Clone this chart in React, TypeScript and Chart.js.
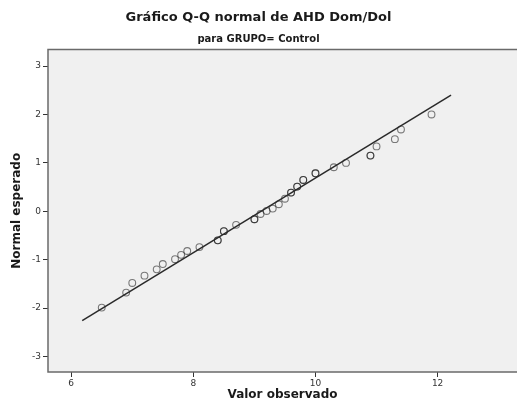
import React, { useEffect, useRef } from "react";
import { Chart, registerables } from "chart.js";

Chart.register(...registerables);

const observed = [6.5, 6.9, 7.0, 7.2, 7.4, 7.5, 7.7, 7.8, 7.9, 8.1, 8.4, 8.4, 8.5, 8.5, 8.7, 9.0, 9.0, 9.1, 9.2, 9.3, 9.4, 9.5, 9.6, 9.6, 9.7, 9.7, 9.8, 9.8, 10.0, 10.0, 10.3, 10.5, 10.9, 10.9, 11.0, 11.3, 11.4, 11.9];
const expected = [-1.99, -1.68, -1.48, -1.33, -1.2, -1.09, -0.99, -0.9, -0.82, -0.74, -0.6, -0.6, -0.41, -0.41, -0.28, -0.165, -0.165, -0.056, 0.007, 0.055, 0.145, 0.26, 0.386, 0.386, 0.51, 0.51, 0.647, 0.647, 0.785, 0.785, 0.91, 1.0, 1.15, 1.15, 1.34, 1.49, 1.69, 2.0];
const lineX = [6.18, 12.22];
const lineY = [-2.26, 2.4];
const xTicks = [6, 8, 10, 12];
const yTicks = [-3, -2, -1, 0, 1, 2, 3];

const titleText = "Gráfico Q-Q normal de AHD Dom/Dol";
const subtitleText = "para GRUPO= Control";
const xTitle = "Valor observado";
const yTitle = "Normal esperado";

const FONT = "'DejaVu Sans', sans-serif";

const areaPlugin = {
  id: "areaPlugin",
  beforeDatasetsDraw(chart: any) {
    const { ctx, chartArea: a } = chart;
    ctx.save();
    ctx.fillStyle = "#f0f0f0";
    ctx.fillRect(a.left, a.top, a.right - a.left, a.bottom - a.top);
    ctx.restore();
  },
  afterDatasetsDraw(chart: any) {
    const { ctx, chartArea: a } = chart;
    ctx.save();
    ctx.strokeStyle = "#6a6a6a";
    ctx.lineWidth = 1.5;
    ctx.beginPath();
    ctx.moveTo(a.right + 2, a.top);
    ctx.lineTo(a.left, a.top);
    ctx.lineTo(a.left, a.bottom);
    ctx.lineTo(a.right + 2, a.bottom);
    ctx.stroke();
    ctx.restore();
  },
};

export default function App() {
  const ref = useRef<HTMLCanvasElement | null>(null);
  useEffect(() => {
    if (!ref.current) return;
    const chart = new Chart(ref.current, {
      type: "scatter",
      data: {
        datasets: [
          {
            type: "line",
            data: lineX.map((x, i) => ({ x, y: lineY[i] })),
            borderColor: "#2a2a2a",
            borderWidth: 1.5,
            pointRadius: 0,
            fill: false,
          } as any,
          {
            data: observed.map((x, i) => ({ x, y: expected[i] })),
            pointStyle: "circle",
            pointRadius: 3.4,
            pointBorderWidth: 1.1,
            pointBackgroundColor: "rgba(0,0,0,0)",
            pointBorderColor: "rgba(0,0,0,0.5)",
          },
        ],
      },
      plugins: [areaPlugin],
      options: {
        animation: false,
        responsive: false,
        maintainAspectRatio: false,
        layout: { padding: 0, autoPadding: false },
        plugins: {
          legend: { display: false },
          tooltip: { enabled: false },
          title: {
            display: true,
            text: titleText,
            color: "#1a1a1a",
            font: { family: FONT, size: 13, weight: "bold", lineHeight: 1.2 },
            padding: { top: 10, bottom: 8 },
          },
          subtitle: {
            display: true,
            text: subtitleText,
            color: "#1a1a1a",
            font: { family: FONT, size: 10, weight: "bold", lineHeight: 1.2 },
            padding: { top: 0, bottom: 4 },
          },
        },
        scales: {
          x: {
            type: "linear",
            min: 5.62,
            max: 13.3,
            afterBuildTicks: (s: any) => {
              s.ticks = xTicks.map((v) => ({ value: v }));
            },
            afterFit: (s: any) => {
              s.height = 40;
              s.paddingLeft = 0;
              s.paddingRight = 0;
            },
            border: { display: false },
            grid: { drawOnChartArea: false, drawTicks: true, tickLength: 5, tickColor: "#333", tickWidth: 1 },
            ticks: { color: "#333", font: { family: FONT, size: 9 }, padding: 1, maxRotation: 0 },
            title: {
              display: true,
              text: xTitle,
              color: "#1a1a1a",
              font: { family: FONT, size: 12, weight: "bold", lineHeight: 1.2 },
              padding: { top: 0, bottom: 10 },
            },
          },
          y: {
            type: "linear",
            min: -3.32,
            max: 3.34,
            afterBuildTicks: (s: any) => {
              s.ticks = yTicks.map((v) => ({ value: v }));
            },
            afterFit: (s: any) => {
              s.width = 48;
              s.paddingTop = 0;
              s.paddingBottom = 0;
            },
            border: { display: false },
            grid: { drawOnChartArea: false, drawTicks: true, tickLength: 5, tickColor: "#333", tickWidth: 1 },
            ticks: { color: "#333", font: { family: FONT, size: 9 }, padding: 2 },
            title: {
              display: true,
              text: yTitle,
              color: "#1a1a1a",
              font: { family: FONT, size: 12, weight: "bold", lineHeight: 1.2 },
              padding: { top: 10, bottom: 0 },
            },
          },
        },
      } as any,
    });
    return () => chart.destroy();
  }, []);
  return (
    <div style={{ position: "absolute", left: 0, top: 0, width: 517, height: 412, background: "#fff" }}>
      <canvas ref={ref} width={517} height={412} style={{ display: "block" }} />
    </div>
  );
}
